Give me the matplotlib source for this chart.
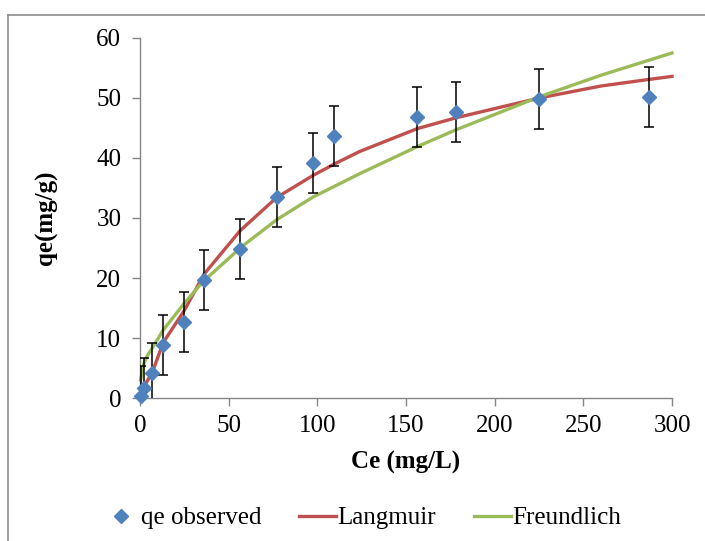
import matplotlib
matplotlib.use("Agg")
import matplotlib.pyplot as plt
from matplotlib.lines import Line2D

#----------data----------
ce_obs = [0.3, 2.0, 7.0, 13.0, 25.0, 36.0, 56.5, 77.0, 97.6, 109.6, 156.4, 178.2, 225.2, 287.2]
qe_obs = [0.3, 1.7, 4.2, 8.8, 12.6, 19.6, 24.8, 33.5, 39.1, 43.7, 46.9, 47.6, 49.8, 50.2]
qe_err = [5, 5, 5, 5, 5, 5, 5, 5, 5, 5, 5, 5, 5, 5]

ce_lang = [0.3, 2.0, 7.0, 13.0, 25.0, 36.0, 56.5, 77.0, 97.6, 109.6, 124.0, 156.4, 178.2, 225.2, 260.0, 287.2, 300.0]
q_lang = [0.6, 1.8, 4.3, 9.2, 14.6, 20.6, 27.9, 33.4, 37.1, 39.0, 41.1, 44.9, 46.7, 50.0, 52.0, 53.1, 53.6]

ce_freu = [0.3, 2.0, 3.8, 7.5, 13.0, 25.0, 35.5, 57.3, 77.0, 97.6, 124.0, 156.4, 178.2, 225.2, 260.0, 300.0]
q_freu = [3.0, 5.6, 6.9, 8.6, 11.3, 15.8, 19.4, 25.2, 29.7, 33.5, 37.4, 41.9, 44.7, 50.2, 53.8, 57.5]

blue = "#4F81BD"
red = "#C0504D"
green = "#9BBB59"
grey = "#868686"

plt.rcParams["font.family"] = "Liberation Serif"

fig = plt.figure(figsize=(7.05, 5.41), dpi=100)
ax = fig.add_axes([0.1986, 0.2643, 0.7546, 0.6655])

#----------outer frame of the chart area----------
fig.add_artist(Line2D([8 / 705, 1.0], [1 - 15 / 541, 1 - 15 / 541], color="#8c8c8c", lw=1.2))
fig.add_artist(Line2D([8 / 705, 8 / 705], [0.0, 1 - 15 / 541], color="#8c8c8c", lw=1.2))

#----------plot the series----------
ax.plot(ce_lang, q_lang, color=red, lw=2.4, zorder=2, clip_on=False)
ax.plot(ce_freu, q_freu, color=green, lw=2.4, zorder=2, clip_on=False)
ax.errorbar(ce_obs, qe_obs, yerr=qe_err, fmt="none", ecolor="black", elinewidth=1.1,
            capsize=3.5, capthick=1.1, zorder=3)
ax.plot(ce_obs, qe_obs, "D", color=blue, ms=7.2, zorder=4, clip_on=False)

ax.set_xlim(0, 300)
ax.set_ylim(0, 60)
ax.set_xticks(range(0, 301, 50))
ax.set_yticks(range(0, 61, 10))

for s in ["top", "right"]:
    ax.spines[s].set_visible(False)
for s in ["left", "bottom"]:
    ax.spines[s].set_color(grey)
    ax.spines[s].set_linewidth(1.0)
ax.tick_params(direction="out", length=5.5, width=1.0, color=grey, labelsize=18)
ax.tick_params(axis="y", pad=8)
ax.tick_params(axis="x", pad=7)

ax.set_xlabel("Ce (mg/L)", fontsize=18, fontweight="bold", va="center")
ax.set_ylabel("qe(mg/g)", fontsize=18, fontweight="bold", va="center")
ax.xaxis.set_label_coords(0.5, -0.18)
ax.yaxis.set_label_coords(-0.175, 0.5)

handles = [Line2D([], [], ls="none", marker="D", color=blue, ms=7.2),
           Line2D([], [], color=red, lw=2.4),
           Line2D([], [], color=green, lw=2.4)]
fig.legend(handles, ["qe observed", "Langmuir", "Freundlich"], loc="center",
           bbox_to_anchor=(0.513, 1 - 518 / 541), ncol=3, frameon=False, fontsize=18,
           handlelength=1.5, handletextpad=0.05, columnspacing=1.5)

fig.savefig("out.png", dpi=100)
